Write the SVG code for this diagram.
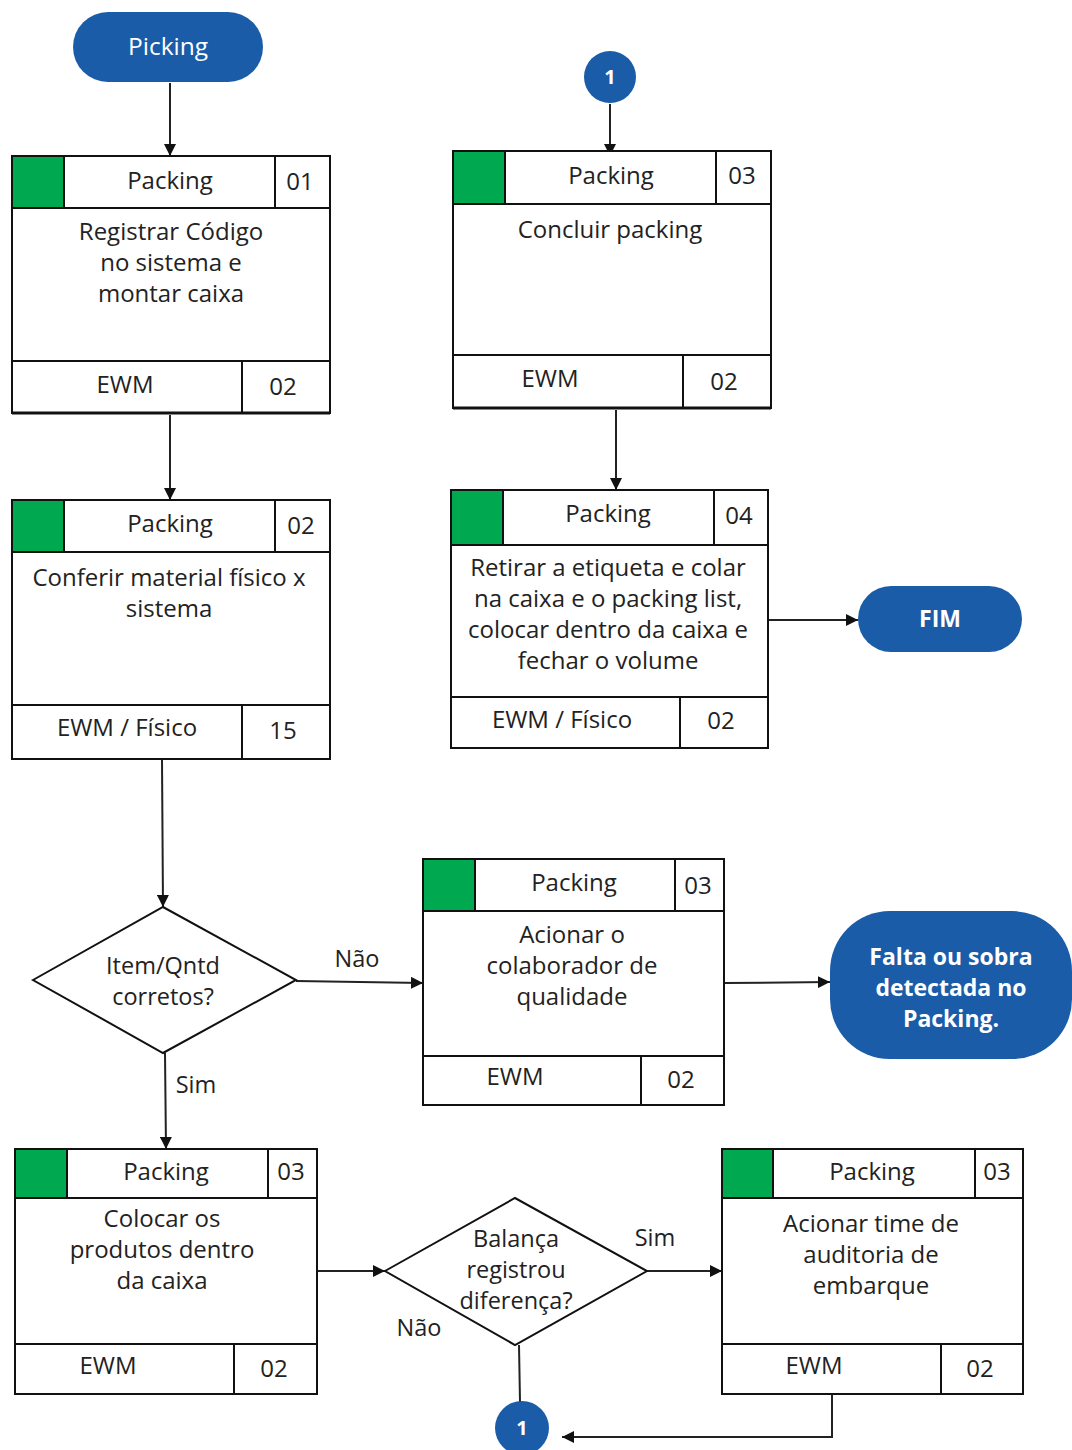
<svg xmlns="http://www.w3.org/2000/svg" width="1072" height="1450" viewBox="0 0 1072 1450">
<style>
.t{font-family:"Open Sans","Liberation Sans",Arial,sans-serif;font-size:24px;fill:#222;text-anchor:middle;dominant-baseline:central}
.s{font-size:23.5px}
.w{font-family:"Open Sans","Liberation Sans",Arial,sans-serif;font-size:24.5px;fill:#fff;text-anchor:middle;dominant-baseline:central}
.wb{font-weight:bold;font-size:23px}
.b{fill:#fff;stroke:#111;stroke-width:2}
.g{fill:#00a84f;stroke:#111;stroke-width:2}
.l{stroke:#111;stroke-width:2;fill:none}
.term{fill:#1a5ca8}
.c{stroke:#222;stroke-width:2;fill:none}
</style>
<defs>
<marker id="a" viewBox="0 0 10 10" refX="10" refY="5" markerWidth="12" markerHeight="12" orient="auto" markerUnits="userSpaceOnUse">
<path d="M0,0 L10,5 L0,10 z" fill="#111"/>
</marker>
</defs>

<g id="connectors">
<line class="c" x1="170" y1="83" x2="170" y2="156" marker-end="url(#a)"/>
<line class="c" x1="170" y1="415" x2="170" y2="500" marker-end="url(#a)"/>
<line class="c" x1="610" y1="104" x2="610" y2="156" marker-end="url(#a)"/>
<line class="c" x1="616" y1="410" x2="616" y2="490" marker-end="url(#a)"/>
<line class="c" x1="769" y1="620" x2="858" y2="620" marker-end="url(#a)"/>
<line class="c" x1="162" y1="760" x2="163" y2="907" marker-end="url(#a)"/>
<line class="c" x1="296" y1="981" x2="423" y2="983" marker-end="url(#a)"/>
<line class="c" x1="725" y1="983" x2="830" y2="982" marker-end="url(#a)"/>
<line class="c" x1="165" y1="1053" x2="166" y2="1149" marker-end="url(#a)"/>
<line class="c" x1="318" y1="1271" x2="385" y2="1271" marker-end="url(#a)"/>
<line class="c" x1="647" y1="1271" x2="722" y2="1271" marker-end="url(#a)"/>
<line class="c" x1="519" y1="1345" x2="520" y2="1402"/>
<polyline class="c" points="832,1395 832,1437 562,1437" marker-end="url(#a)"/>
<text class="t s" x="357" y="958">Não</text>
<text class="t s" x="196" y="1084">Sim</text>
<text class="t s" x="655" y="1237">Sim</text>
<text class="t s" x="419" y="1327">Não</text>
</g>

<g id="start-picking">
<rect class="term" x="73" y="12" width="190" height="70" rx="35"/>
<text class="w" x="168" y="45">Picking</text>
</g>

<g id="step-01">
<rect class="b" x="12" y="156" width="318" height="257"/>
<rect class="g" x="12" y="156" width="52" height="52"/>
<line class="l" x1="12" y1="208" x2="330" y2="208"/>
<line class="l" x1="275" y1="156" x2="275" y2="208"/>
<line class="l" x1="12" y1="361" x2="330" y2="361"/>
<line class="l" x1="242" y1="361" x2="242" y2="413"/>
<line stroke="#111" stroke-width="3" x1="12" y1="413" x2="330" y2="413"/>
<text class="t" x="170" y="179">Packing</text>
<text class="t" x="300" y="180">01</text>
<text class="t" x="171" y="230">Registrar Código</text>
<text class="t" x="171" y="261">no sistema e</text>
<text class="t" x="171" y="292">montar caixa</text>
<text class="t" x="125" y="383">EWM</text>
<text class="t" x="283" y="385">02</text>
</g>

<g id="step-02">
<rect class="b" x="12" y="500" width="318" height="259"/>
<rect class="g" x="12" y="500" width="52" height="52"/>
<line class="l" x1="12" y1="552" x2="330" y2="552"/>
<line class="l" x1="275" y1="500" x2="275" y2="552"/>
<line class="l" x1="12" y1="705" x2="330" y2="705"/>
<line class="l" x1="242" y1="705" x2="242" y2="759"/>
<text class="t" x="170" y="522">Packing</text>
<text class="t" x="301" y="524">02</text>
<text class="t" x="169" y="576">Conferir material físico x</text>
<text class="t" x="169" y="607">sistema</text>
<text class="t" x="127" y="726">EWM / Físico</text>
<text class="t" x="283" y="729">15</text>
</g>

<g id="connector-1-top">
<circle class="term" cx="610" cy="77" r="26"/>
<text class="w" x="610" y="76" style="font-weight:bold;font-size:20px">1</text>
</g>

<g id="step-03-concluir">
<rect class="b" x="453" y="151" width="318" height="257"/>
<rect class="g" x="453" y="151" width="52" height="53"/>
<line class="l" x1="453" y1="204" x2="771" y2="204"/>
<line class="l" x1="716" y1="151" x2="716" y2="204"/>
<line class="l" x1="453" y1="355" x2="771" y2="355"/>
<line class="l" x1="683" y1="355" x2="683" y2="408"/>
<line stroke="#111" stroke-width="3" x1="453" y1="408" x2="771" y2="408"/>
<text class="t" x="611" y="174">Packing</text>
<text class="t" x="742" y="174">03</text>
<text class="t" x="610" y="228">Concluir packing</text>
<text class="t" x="550" y="377">EWM</text>
<text class="t" x="724" y="380">02</text>
</g>

<g id="step-04">
<rect class="b" x="451" y="490" width="317" height="258"/>
<rect class="g" x="451" y="490" width="52" height="55"/>
<line class="l" x1="451" y1="545" x2="768" y2="545"/>
<line class="l" x1="714" y1="490" x2="714" y2="545"/>
<line class="l" x1="451" y1="697" x2="768" y2="697"/>
<line class="l" x1="680" y1="697" x2="680" y2="748"/>
<text class="t" x="608" y="512">Packing</text>
<text class="t" x="739" y="514">04</text>
<text class="t" x="608" y="566">Retirar a etiqueta e colar</text>
<text class="t" x="608" y="597">na caixa e o packing list,</text>
<text class="t" x="608" y="628">colocar dentro da caixa e</text>
<text class="t" x="608" y="659">fechar o volume</text>
<text class="t" x="562" y="718">EWM / Físico</text>
<text class="t" x="721" y="719">02</text>
</g>

<g id="end-fim">
<rect class="term" x="858" y="586" width="164" height="66" rx="33"/>
<text class="w wb" x="940" y="618">FIM</text>
</g>

<g id="decision-item">
<polygon class="b" points="33,980 163,907 296,980 163,1053"/>
<text class="t s" x="163" y="965">Item/Qntd</text>
<text class="t s" x="163" y="996">corretos?</text>
</g>

<g id="step-03-qualidade">
<rect class="b" x="423" y="859" width="301" height="246"/>
<rect class="g" x="423" y="859" width="52" height="52"/>
<line class="l" x1="423" y1="911" x2="724" y2="911"/>
<line class="l" x1="675" y1="859" x2="675" y2="911"/>
<line class="l" x1="423" y1="1056" x2="724" y2="1056"/>
<line class="l" x1="641" y1="1056" x2="641" y2="1105"/>
<text class="t" x="574" y="881">Packing</text>
<text class="t" x="698" y="884">03</text>
<text class="t" x="572" y="933">Acionar o</text>
<text class="t" x="572" y="964">colaborador de</text>
<text class="t" x="572" y="995">qualidade</text>
<text class="t" x="515" y="1075">EWM</text>
<text class="t" x="681" y="1078">02</text>
</g>

<g id="end-falta">
<rect class="term" x="830" y="911" width="242" height="148" rx="60"/>
<text class="w wb" x="951" y="956">Falta ou sobra</text>
<text class="w wb" x="951" y="987">detectada no</text>
<text class="w wb" x="951" y="1018">Packing.</text>
</g>

<g id="step-03-colocar">
<rect class="b" x="15" y="1149" width="302" height="245"/>
<rect class="g" x="15" y="1149" width="52" height="49"/>
<line class="l" x1="15" y1="1198" x2="317" y2="1198"/>
<line class="l" x1="268" y1="1149" x2="268" y2="1198"/>
<line class="l" x1="15" y1="1344" x2="317" y2="1344"/>
<line class="l" x1="234" y1="1344" x2="234" y2="1394"/>
<text class="t" x="166" y="1170">Packing</text>
<text class="t" x="291" y="1170">03</text>
<text class="t" x="162" y="1217">Colocar os</text>
<text class="t" x="162" y="1248">produtos dentro</text>
<text class="t" x="162" y="1279">da caixa</text>
<text class="t" x="108" y="1364">EWM</text>
<text class="t" x="274" y="1367">02</text>
</g>

<g id="decision-balanca">
<polygon class="b" points="385,1271 515,1198 647,1271 515,1345"/>
<text class="t s" x="516" y="1238">Balança</text>
<text class="t s" x="516" y="1269">registrou</text>
<text class="t s" x="516" y="1300">diferença?</text>
</g>

<g id="step-03-auditoria">
<rect class="b" x="722" y="1149" width="301" height="245"/>
<rect class="g" x="722" y="1149" width="51" height="49"/>
<line class="l" x1="722" y1="1198" x2="1023" y2="1198"/>
<line class="l" x1="975" y1="1149" x2="975" y2="1198"/>
<line class="l" x1="722" y1="1344" x2="1023" y2="1344"/>
<line class="l" x1="941" y1="1344" x2="941" y2="1394"/>
<text class="t" x="872" y="1170">Packing</text>
<text class="t" x="997" y="1170">03</text>
<text class="t" x="871" y="1222">Acionar time de</text>
<text class="t" x="871" y="1253">auditoria de</text>
<text class="t" x="871" y="1284">embarque</text>
<text class="t" x="814" y="1364">EWM</text>
<text class="t" x="980" y="1367">02</text>
</g>

<g id="connector-1-bottom">
<circle class="term" cx="522" cy="1428" r="27"/>
<text class="w" x="522" y="1427" style="font-weight:bold;font-size:20px">1</text>
</g>
</svg>
